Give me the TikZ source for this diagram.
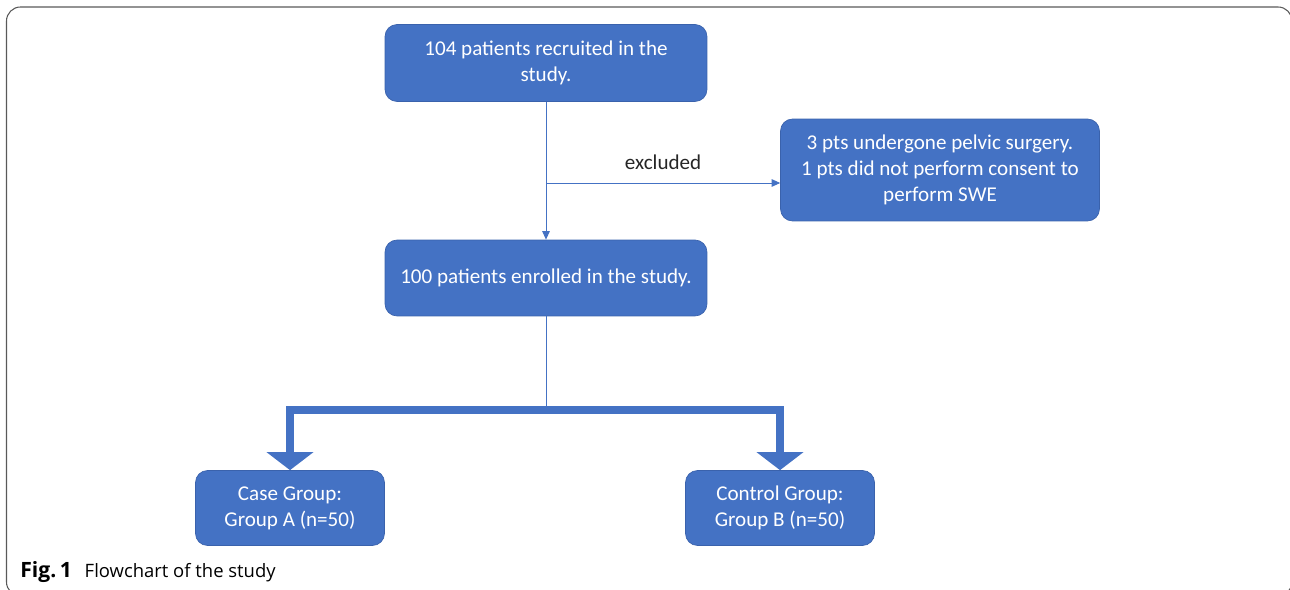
\documentclass[tikz,border=0pt]{standalone}
\usepackage{fontspec}
\setmainfont{Carlito}
\newfontfamily\capfont{Open Sans}
\usetikzlibrary{arrows.meta}
\definecolor{boxblue}{HTML}{4472C4}
\definecolor{boxedge}{HTML}{3A62AC}

\tikzset{
  flowbox/.style={draw=boxedge, line width=0.4pt, fill=boxblue, rounded corners=0.24cm,
    align=center, text=white, inner sep=0pt, font=\fontsize{12}{14.8}\selectfont},
  thinline/.style={draw=boxblue, line width=0.55pt},
  thinarrow/.style={thinline, -{Triangle[length=0.17cm,width=0.15cm]}},
  bigarrow/.style={draw=boxblue, line width=0.16cm, line join=miter,
    -{Triangle[length=0.36cm,width=0.92cm]}},
}

\begin{document}
\begin{tikzpicture}[x=0.02cm,y=-0.02cm]
            \useasboundingbox (0,0) rectangle (1290,590);
            % outer frame
            \begin{scope}
              \clip (0,0) rectangle (1290,590);
              \draw[black!65, line width=0.6pt, rounded corners=0.28cm] (6.5,7) rectangle (1292,596);
            \end{scope}

            \node[flowbox, minimum width=6.44cm, minimum height=1.54cm, text depth=0.5ex] (recruit) at (546,63) {104 patients recruited in the\\study.};
            \node[flowbox, minimum width=6.38cm, minimum height=2.04cm] (excl) at (940,170) {3 pts undergone pelvic surgery.\\1 pts did not perform consent to\\perform SWE};
            \node[flowbox, minimum width=6.44cm, minimum height=1.52cm] (enrol) at (546,278) {100 patients enrolled in the study.};
            \node[flowbox, minimum width=3.78cm, minimum height=1.5cm] (groupa) at (290,508) {Case Group:\\Group A (n=50)};
            \node[flowbox, minimum width=3.78cm, minimum height=1.5cm] (groupb) at (780,508) {Control Group:\\Group B (n=50)};

            \coordinate (branch) at (546,183);
            \coordinate (split) at (546,410);

            \draw[thinarrow] (recruit) -- (enrol);
            \draw[thinarrow] (branch) -- node[above=0.14cm, text=black!85, font=\fontsize{12}{14}\selectfont] {excluded} (branch -| excl.west);
            \draw[thinline] (enrol) -- (split);
            \draw[bigarrow] (split) -| (groupa.north);
            \draw[bigarrow] (split) -| (groupb.north);

            \node[anchor=base west, inner sep=0pt, font=\capfont\fontsize{10.5}{12}\selectfont] (caption) at (20,577) {{\fontsize{12}{12}\selectfont\bfseries Fig.\,1}\hspace{0.7em}Flowchart of the study};
        \end{tikzpicture}
\end{document}
